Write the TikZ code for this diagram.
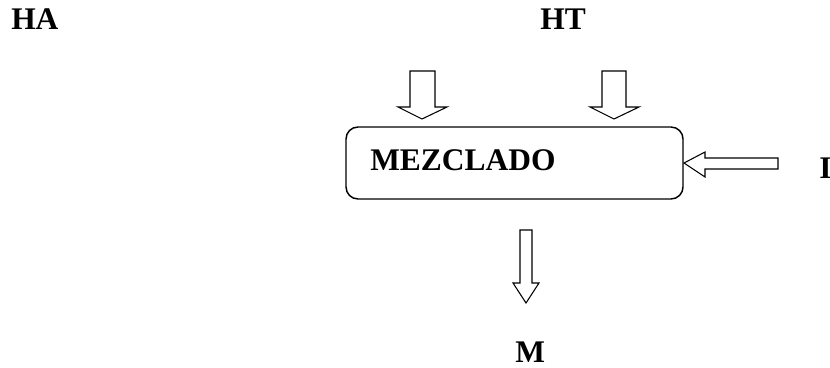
\documentclass[tikz,border=0pt]{standalone}
\usepackage{fontspec}
\setmainfont{Liberation Serif}
\begin{document}
\begin{tikzpicture}[x=0.75pt,y=-0.75pt,
  lbl/.style={font=\fontsize{23.6}{27}\selectfont\bfseries, inner sep=0pt, anchor=base west},
  procbox/.style={draw, line width=1.1pt, rounded corners=9pt},
  blockarrow/.style={draw, line width=0.8pt, fill=white, line join=miter}]
\useasboundingbox (0,0) rectangle (830,367);

% labels
\node[lbl] (ha) at (11,30) {HA};
\node[lbl] (ht) at (540,30) {HT};
\node[lbl] (i)  at (819,178) {I};
\node[lbl] (m)  at (515,362) {M};

% mixing stage
\draw[procbox] (346,127) rectangle (683,199);
\node[lbl] (mez) at (370,170) {MEZCLADO};

% input arrows from above
\draw[blockarrow] (410,71) -- (435,71) -- (435,107) -- (447,107) -- (422,119)
  -- (398,107) -- (410,107) -- cycle;
\draw[blockarrow] (602,71) -- (626,71) -- (626,107) -- (639,107) -- (614,119)
  -- (590,107) -- (602,107) -- cycle;

% input arrow from the right
\draw[blockarrow] (778,158) -- (778,169) -- (705,169) -- (705,177) -- (684,163)
  -- (705,152) -- (705,158) -- cycle;

% output arrow
\draw[blockarrow] (520,230) -- (532,230) -- (532,283) -- (539,283) -- (526,303)
  -- (513,283) -- (520,283) -- cycle;
\end{tikzpicture}
\end{document}
